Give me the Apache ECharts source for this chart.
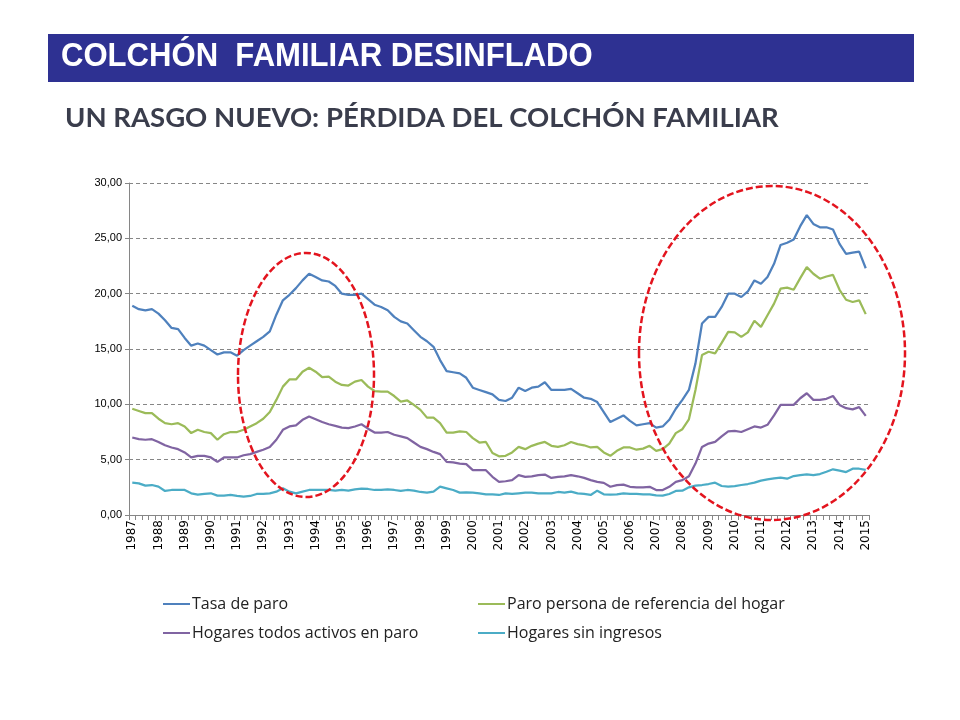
<!DOCTYPE html>
<html><head><meta charset="utf-8">
<script src="https://cdn.jsdelivr.net/npm/echarts@6/dist/echarts.min.js"></script>
<style>html,body{margin:0;padding:0;background:#fff}#c{width:960px;height:720px}</style>
</head><body><div id="c"></div>
<script>
// Quarterly series, 1987 T2 – 2015 T2 (113 quarters)
const firstYear = 1987, firstQuarter = 2, lastYear = 2015, lastQuarter = 2;
const categories = [];
for (let y = firstYear; y <= lastYear; y++) {
  for (let q = 1; q <= 4; q++) {
    if (y === firstYear && q < firstQuarter) continue;
    if (y === lastYear && q > lastQuarter) continue;
    categories.push(y + 'T' + q);
  }
}

const seriesNames = ['Tasa de paro', 'Paro persona de referencia del hogar', 'Hogares todos activos en paro', 'Hogares sin ingresos'];

const tasaParo = [
  18.9, 18.6, 18.5, 18.6, 18.2, 17.6, 16.9, 16.8, 16.0, 15.3, 15.5, 15.3, 14.9, 14.5, 14.7, 14.7, 14.4, 14.9, 15.3,
  15.7, 16.1, 16.6, 18.1, 19.4, 19.9, 20.5, 21.2, 21.8, 21.5, 21.2, 21.1, 20.7, 20.0, 19.9, 19.9, 20.0, 19.5,
  19.0, 18.8, 18.5, 17.9, 17.5, 17.3, 16.7, 16.1, 15.7, 15.2, 14.0, 13.0, 12.9, 12.8, 12.4, 11.5, 11.3, 11.1,
  10.9, 10.4, 10.3, 10.6, 11.5, 11.2, 11.5, 11.6, 12.0, 11.3, 11.3, 11.3, 11.4, 11.0, 10.6, 10.5, 10.2, 9.3, 8.4,
  8.7, 9.0, 8.5, 8.1, 8.2, 8.3, 7.9, 8.0, 8.6, 9.6, 10.4, 11.3, 13.7, 17.3, 17.9, 17.9, 18.8, 20.0, 20.0,
  19.7, 20.2, 21.2, 20.9, 21.5, 22.7, 24.4, 24.6, 24.9, 26.1, 27.1, 26.3, 26.0, 26.0, 25.8, 24.5, 23.6, 23.7, 23.8, 22.3
];
const paroPersonaRef = [
  9.6, 9.4, 9.2, 9.2, 8.7, 8.3, 8.2, 8.3, 8.0, 7.4, 7.7, 7.5, 7.4, 6.8, 7.3, 7.5, 7.5, 7.7, 8.0,
  8.3, 8.7, 9.3, 10.4, 11.6, 12.25, 12.25, 12.95, 13.3, 12.95, 12.45, 12.5, 12.05, 11.75, 11.7, 12.05, 12.2, 11.6,
  11.2, 11.15, 11.15, 10.75, 10.25, 10.35, 9.95, 9.5, 8.8, 8.8, 8.3, 7.45, 7.45, 7.55, 7.5, 6.95, 6.55, 6.6,
  5.6, 5.3, 5.35, 5.65, 6.15, 5.95, 6.25, 6.45, 6.6, 6.25, 6.15, 6.3, 6.6, 6.4, 6.3, 6.1, 6.15, 5.65, 5.35,
  5.8, 6.1, 6.1, 5.9, 6.0, 6.25, 5.8, 5.95, 6.45, 7.4, 7.75, 8.65, 11.3, 14.45, 14.75, 14.6, 15.55, 16.55, 16.5,
  16.1, 16.5, 17.55, 17.0, 18.05, 19.1, 20.45, 20.55, 20.35, 21.4, 22.4, 21.8, 21.35, 21.55, 21.7, 20.35, 19.45, 19.25, 19.4, 18.15
];
const hogaresActivosParo = [
  7.0, 6.85, 6.8, 6.85, 6.6, 6.3, 6.1, 5.95, 5.65, 5.2, 5.35, 5.35, 5.2, 4.8, 5.2, 5.2, 5.2, 5.4, 5.5,
  5.7, 5.9, 6.15, 6.8, 7.7, 8.0, 8.1, 8.6, 8.9, 8.65, 8.4, 8.2, 8.05, 7.9, 7.85, 8.0, 8.2, 7.8,
  7.45, 7.45, 7.5, 7.25, 7.1, 6.95, 6.55, 6.15, 5.95, 5.7, 5.5, 4.8, 4.75, 4.65, 4.6, 4.05, 4.05, 4.05,
  3.45, 3.0, 3.05, 3.15, 3.6, 3.45, 3.5, 3.6, 3.65, 3.35, 3.45, 3.5, 3.6, 3.5, 3.35, 3.15, 3.0, 2.9, 2.55,
  2.7, 2.75, 2.55, 2.5, 2.5, 2.55, 2.25, 2.25, 2.55, 3.0, 3.15, 3.5, 4.65, 6.15, 6.45, 6.6, 7.1, 7.55, 7.6,
  7.5, 7.75, 8.0, 7.9, 8.15, 9.0, 9.95, 9.95, 9.95, 10.55, 11.0, 10.4, 10.4, 10.5, 10.75, 9.95, 9.65, 9.55, 9.75, 8.95
];
const hogaresSinIngresos = [
  2.92, 2.86, 2.65, 2.71, 2.56, 2.17, 2.26, 2.26, 2.26, 1.96, 1.84, 1.90, 1.96, 1.75, 1.75, 1.81, 1.72, 1.66, 1.72,
  1.90, 1.90, 1.96, 2.11, 2.41, 2.11, 1.96, 2.11, 2.26, 2.26, 2.26, 2.26, 2.20, 2.26, 2.20, 2.32, 2.38, 2.35,
  2.26, 2.26, 2.32, 2.26, 2.17, 2.26, 2.20, 2.08, 2.02, 2.11, 2.56, 2.41, 2.26, 2.02, 2.05, 2.02, 1.96, 1.87,
  1.87, 1.81, 1.96, 1.90, 1.96, 2.02, 2.02, 1.96, 1.96, 1.96, 2.08, 2.02, 2.11, 1.96, 1.90, 1.81, 2.20, 1.87, 1.85,
  1.87, 1.96, 1.90, 1.90, 1.87, 1.87, 1.78, 1.75, 1.90, 2.17, 2.20, 2.50, 2.65, 2.71, 2.80, 2.92, 2.62, 2.56, 2.60,
  2.71, 2.80, 2.92, 3.10, 3.22, 3.31, 3.37, 3.28, 3.52, 3.61, 3.67, 3.61, 3.70, 3.91, 4.13, 4.01, 3.88, 4.18, 4.18, 4.07
];

const seriesData = [tasaParo, paroPersonaRef, hogaresActivosParo, hogaresSinIngresos];
const colors = ['#4F81BD', '#9BBB59', '#8064A2', '#4BACC6'];

const chart = echarts.init(document.getElementById('c'), null, {renderer: 'canvas'});
const FONT = 'Liberation Sans, Arial, sans-serif';
const XFONT = 'DejaVu Sans, Verdana, sans-serif';
const LFONT = 'Open Sans, sans-serif';

const legendPos = [[163, 596], [478, 596], [163, 625], [478, 625]];

const option = {
  backgroundColor: '#fff',
  animation: false,
  color: colors,
  grid: {left: 129, right: 91, top: 183, bottom: 205, containLabel: false},
  legend: seriesNames.map((n, i) => ({
    data: [n], left: legendPos[i][0], top: legendPos[i][1], padding: 0,
    icon: 'rect', itemWidth: 27, itemHeight: 2, itemGap: 0,
    textStyle: {fontFamily: LFONT, fontSize: 16, color: '#222', padding: [0, 0, 0, -3]},
    selectedMode: false
  })),
  xAxis: {
    type: 'category', data: categories, boundaryGap: true,
    axisLine: {lineStyle: {color: '#868686', width: 1}},
    axisTick: {show: true, interval: 0, length: 5, lineStyle: {color: '#868686'}},
    axisLabel: {interval: 3, rotate: 90, fontFamily: XFONT, fontSize: 12, color: '#000', margin: 5,
      formatter: v => v.slice(0, 4)},
    splitLine: {show: false}
  },
  yAxis: {
    type: 'value', min: 0, max: 30, interval: 5,
    axisLine: {show: true, lineStyle: {color: '#868686', width: 1}},
    axisTick: {show: true, length: 4, lineStyle: {color: '#868686'}},
    axisLabel: {fontFamily: FONT, fontSize: 11, color: '#000', margin: 7,
      formatter: v => v.toFixed(2).replace('.', ',')},
    splitLine: {show: true, lineStyle: {color: '#868686', type: [4, 3], width: 1}}
  },
  series: seriesNames.map((n, i) => ({
    name: n, type: 'line', data: seriesData[i], symbol: 'none', smooth: false,
    lineStyle: {width: 2.25, color: colors[i]}, itemStyle: {color: colors[i]}, z: 3
  })),
  graphic: [
    {type: 'rect', shape: {x: 48, y: 34, width: 866, height: 48}, style: {fill: '#2E3192'}, z: 10},
    {type: 'text', x: 61, y: 40, scaleX: 0.914, z: 11,
      style: {text: 'COLCHÓN  FAMILIAR DESINFLADO', fill: '#fff', font: 'bold 34px Liberation Sans, Arial, sans-serif'}},
    {type: 'text', left: 65, top: 104, z: 11,
      style: {text: 'UN RASGO NUEVO: PÉRDIDA DEL COLCHÓN FAMILIAR', fill: '#3A3D4C', font: 'bold 27.5px Lato, sans-serif'}},
    {type: 'ellipse', shape: {cx: 306, cy: 375, rx: 68, ry: 122}, z: 20,
      style: {fill: 'none', stroke: '#E3141E', lineWidth: 2.5, lineDash: [7, 3]}},
    {type: 'ellipse', shape: {cx: 772, cy: 353, rx: 133, ry: 167}, z: 20,
      style: {fill: 'none', stroke: '#E3141E', lineWidth: 2.5, lineDash: [7, 3]}}
  ]
};
chart.setOption(option);
</script>
</body></html>
